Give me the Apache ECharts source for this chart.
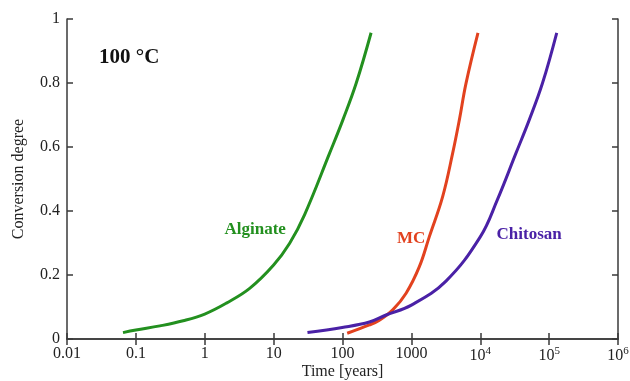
<!DOCTYPE html>
<html>
<head>
<meta charset="utf-8">
<script src="https://cdn.jsdelivr.net/npm/echarts@6/dist/echarts.min.js"></script>
<style>
  html, body { margin: 0; padding: 0; background: #fff; }
  #chart { width: 630px; height: 381px; }
</style>
</head>
<body>
<div id="chart"></div>
<script>
// time in years (log scale) vs conversion degree
const alginateTime = [0.065, 0.1, 0.223, 0.486, 1, 2.06, 4.49, 10, 17.1, 28.1, 64.8, 101, 158, 260];
const alginateConv = [0.020, 0.028, 0.041, 0.057, 0.078, 0.112, 0.158, 0.231, 0.299, 0.388, 0.58, 0.684, 0.799, 0.957];

const mcTime = [117, 246, 344, 536, 838, 1306, 1824, 2845, 3970, 4966, 6210, 9270];
const mcConv = [0.018, 0.044, 0.059, 0.091, 0.143, 0.226, 0.32, 0.445, 0.58, 0.684, 0.799, 0.957];

const chitosanTime = [31, 99, 246, 430, 1000, 3180, 10000, 17630, 32900, 51300, 80000, 129000];
const chitosanConv = [0.02, 0.036, 0.053, 0.075, 0.106, 0.181, 0.319, 0.434, 0.58, 0.684, 0.799, 0.957];

const xTickLabels = ['0.01', '0.1', '1', '10', '100', '1000', '10{sup|4}', '10{sup|5}', '10{sup|6}'];
const yTickLabels = ['0', '0.2', '0.4', '0.6', '0.8', '1'];

const font = 'Liberation Serif';
const axisColor = '#3a3a3a';
const textColor = '#222';

const pairs = (xs, ys) => xs.map((x, i) => [x, ys[i]]);

function curve(name, color, xs, ys, labelAt) {
  return {
    name,
    type: 'line',
    smooth: 0.4,
    showSymbol: false,
    data: pairs(xs, ys),
    lineStyle: { color, width: 3 },
    itemStyle: { color },
    markPoint: {
      symbolSize: 0,
      data: [{ coord: labelAt }],
      label: {
        show: true,
        position: 'inside',
        formatter: name,
        color,
        fontFamily: font,
        fontWeight: 'bold',
        fontSize: 17
      }
    }
  };
}

const axisCommon = {
  axisLine: { show: true, lineStyle: { color: axisColor, width: 1.5 } },
  axisTick: { show: true, inside: true, length: 6, lineStyle: { color: axisColor, width: 1.5 } },
  splitLine: { show: false },
  minorTick: { show: false }
};

const chart = echarts.init(document.getElementById('chart'));
chart.setOption({
  animation: false,
  backgroundColor: '#fff',
  title: {
    text: '100 °C',
    left: 94,
    top: 42,
    textStyle: { fontFamily: font, fontWeight: 'bold', fontSize: 21, color: '#111' }
  },
  grid: { left: 67, right: 12, top: 19, bottom: 42, outerBoundsMode: 'none', containLabel: false },
  xAxis: [
    Object.assign({}, axisCommon, {
      type: 'log', logBase: 10, min: 0.01, max: 1e6, position: 'bottom',
      name: 'Time [years]', nameLocation: 'middle', nameGap: 25, nameMoveOverlap: false,
      nameTextStyle: { fontFamily: font, fontSize: 16, color: textColor },
      axisLabel: {
        margin: 7,
        fontFamily: font, fontSize: 16, color: textColor,
        formatter: v => xTickLabels[Math.round(Math.log10(v)) + 2],
        rich: { sup: { fontFamily: font, fontSize: 11, color: textColor, padding: [0, 0, 9, 0] } }
      }
    }),
    Object.assign({}, axisCommon, {
      type: 'log', logBase: 10, min: 0.01, max: 1e6, position: 'top',
      axisLabel: { show: false }
    })
  ],
  yAxis: [
    Object.assign({}, axisCommon, {
      type: 'value', min: 0, max: 1, interval: 0.2, position: 'left',
      name: 'Conversion degree', nameLocation: 'middle', nameGap: 40, nameMoveOverlap: false,
      nameTextStyle: { fontFamily: font, fontSize: 16, color: textColor },
      axisLabel: {
        margin: 7,
        fontFamily: font, fontSize: 16, color: textColor,
        formatter: v => yTickLabels[Math.round(v * 5)]
      }
    }),
    Object.assign({}, axisCommon, {
      type: 'value', min: 0, max: 1, interval: 0.2, position: 'right',
      axisLabel: { show: false }
    })
  ],
  series: [
    curve('Alginate', '#23901f', alginateTime, alginateConv, [5.4, 0.343]),
    curve('MC', '#e2421f', mcTime, mcConv, [990, 0.315]),
    curve('Chitosan', '#4a21a6', chitosanTime, chitosanConv, [51300, 0.325])
  ]
});
</script>
</body>
</html>
